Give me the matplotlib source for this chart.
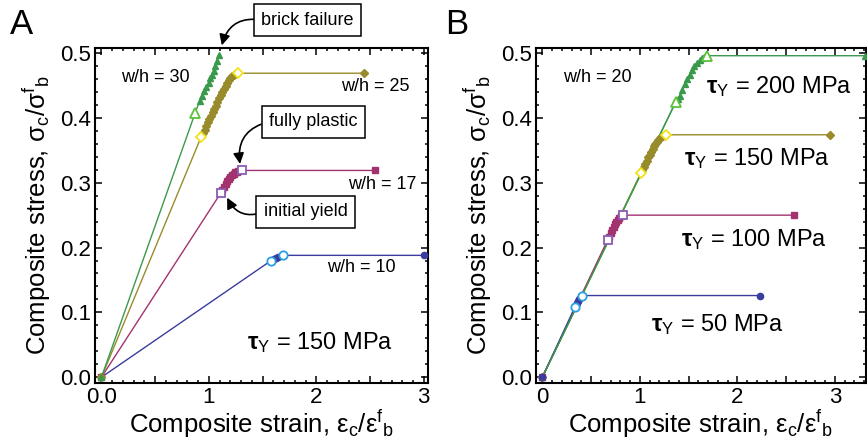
import matplotlib
matplotlib.use("Agg")
import matplotlib.pyplot as plt
from matplotlib.ticker import MultipleLocator, FixedLocator, FixedFormatter

plt.rcParams['font.family'] = ['Liberation Sans', 'DejaVu Sans']
plt.rcParams['mathtext.fontset'] = 'custom'
plt.rcParams['mathtext.rm'] = 'Liberation Sans'
plt.rcParams['mathtext.it'] = 'Liberation Sans:italic'
plt.rcParams['mathtext.bf'] = 'Liberation Sans:bold'

# ---- panel A data (tau_Y = 150 MPa, varying w/h) ----
a30_x = [0, 0.873, 0.913, 0.935, 0.956, 0.977, 0.997, 1.013, 1.028, 1.043, 1.058, 1.075, 1.09]
a30_y = [0, 0.408, 0.426, 0.434, 0.442, 0.448, 0.454, 0.461, 0.467, 0.473, 0.480, 0.488, 0.497]
a30_open = [1]

a25_x = [0, 0.926, 0.945, 0.96, 0.975, 0.99, 1.005, 1.02, 1.035, 1.05, 1.065, 1.08,
         1.095, 1.11, 1.125, 1.14, 1.155, 1.17, 1.185, 1.2, 1.215, 1.23, 1.245, 1.275, 2.44]
a25_y = [0, 0.370, 0.377, 0.382, 0.388, 0.393, 0.398, 0.403, 0.409, 0.414, 0.419,
         0.424, 0.430, 0.435, 0.440, 0.445, 0.450, 0.454, 0.458, 0.461, 0.464, 0.466,
         0.468, 0.469, 0.469]
a25_open = [1, 23]

a17_x = [0, 1.11, 1.125, 1.14, 1.155, 1.17, 1.185, 1.2, 1.215, 1.23, 1.245, 1.26,
         1.275, 1.31, 2.55]
a17_y = [0, 0.284, 0.289, 0.294, 0.298, 0.302, 0.306, 0.309, 0.312, 0.314, 0.316,
         0.317, 0.318, 0.319, 0.319]
a17_open = [1, 13]

a10_x = [0, 1.58, 1.605, 1.625, 1.645, 1.69, 3.0]
a10_y = [0, 0.180, 0.182, 0.184, 0.186, 0.188, 0.188]
a10_open = [1, 5]

# ---- panel B data (w/h = 20, varying tau_Y) ----
b200_x = [0, 1.366, 1.39, 1.41, 1.435, 1.46, 1.485, 1.51, 1.535, 1.56, 1.59, 1.62,
          1.64, 1.66, 1.685, 3.31]
b200_y = [0, 0.424, 0.429, 0.434, 0.443, 0.452, 0.460, 0.467, 0.474, 0.480, 0.485,
          0.489, 0.492, 0.494, 0.496, 0.496]
b200_open = [1, 14]

b150_x = [0, 1.01, 1.025, 1.04, 1.055, 1.07, 1.085, 1.1, 1.115, 1.13, 1.145, 1.16,
          1.175, 1.19, 1.205, 1.22, 1.235, 1.27, 2.95]
b150_y = [0, 0.315, 0.320, 0.325, 0.329, 0.334, 0.339, 0.343, 0.347, 0.352, 0.356,
          0.360, 0.363, 0.366, 0.369, 0.371, 0.372, 0.374, 0.374]
b150_open = [1, 17]

b100_x = [0, 0.67, 0.685, 0.7, 0.715, 0.73, 0.745, 0.76, 0.775, 0.79, 0.805, 0.83, 2.58]
b100_y = [0, 0.212, 0.217, 0.222, 0.227, 0.232, 0.236, 0.240, 0.243, 0.246, 0.248,
          0.250, 0.250]
b100_open = [1, 11]

b50_x = [0, 0.333, 0.345, 0.357, 0.369, 0.381, 0.393, 0.41, 2.23]
b50_y = [0, 0.108, 0.111, 0.114, 0.117, 0.120, 0.123, 0.126, 0.126]
b50_open = [1, 7]

green, green_o = '#3a9a4c', '#5cc23c'
olive, olive_o = '#988b2c', '#f2e21a'
mag, mag_o = '#a2336f', '#8c5cb4'
blue, blue_o = '#3a3c9e', '#2a9ee0'


def draw(ax, x, y, opn, col, ocol, mk, ms, lw=1.0):
    ax.plot(x, y, color=col, lw=lw, zorder=2)
    fx = [v for i, v in enumerate(x) if i not in opn]
    fy = [v for i, v in enumerate(y) if i not in opn]
    ax.plot(fx, fy, ls='none', marker=mk, ms=ms, color=col, mec=col, zorder=3)
    ox = [x[i] for i in opn]
    oy = [y[i] for i in opn]
    ax.plot(ox, oy, ls='none', marker=mk, ms=ms + 1.5, mfc='white', mec=ocol,
            mew=1.3, zorder=4)


def style(ax, xlabels):
    ax.set_ylim(-0.009, 0.508)
    ax.xaxis.set_major_locator(FixedLocator([0, 0.5, 1, 1.5, 2, 2.5, 3]))
    ax.xaxis.set_major_formatter(FixedFormatter(xlabels))
    ax.xaxis.set_minor_locator(MultipleLocator(0.1))
    ax.yaxis.set_major_locator(MultipleLocator(0.1))
    ax.yaxis.set_minor_locator(MultipleLocator(0.02))
    ax.yaxis.set_major_formatter(plt.FormatStrFormatter('%.1f'))
    ax.tick_params(which='both', direction='in', top=True, right=True, width=1.1)
    ax.tick_params(which='major', length=5, labelsize=16, pad=3)
    ax.tick_params(which='minor', length=2.5)
    for s in ax.spines.values():
        s.set_linewidth(1.5)
    ax.set_xlabel(r'Composite strain, $\mathregular{\varepsilon_c/\varepsilon^f{}_b}$',
                  fontsize=18.5, labelpad=0)
    ax.set_ylabel(r'Composite stress, $\mathregular{\sigma_c/\sigma^f{}_b}$',
                  fontsize=18.5, labelpad=5)


fig = plt.figure(figsize=(8.67, 4.48), dpi=100)
axA = fig.add_axes([0.1096, 0.145, 0.3841, 0.748])
axB = fig.add_axes([0.618, 0.145, 0.381, 0.748])

# panel A
draw(axA, a10_x, a10_y, a10_open, blue, blue_o, 'o', 4.5)
draw(axA, a17_x, a17_y, a17_open, mag, mag_o, 's', 4.5)
draw(axA, a25_x, a25_y, a25_open, olive, olive_o, 'D', 4)
draw(axA, a30_x, a30_y, a30_open, green, green_o, '^', 5)
axA.set_xlim(-0.06, 3.04)
style(axA, ['0.0', '', '1', '', '2', '', '3'])

wh = dict(fontsize=13, ha='center', va='center')
axA.text(0.50, 0.462, 'w/h = 30', **wh)
axA.text(2.55, 0.449, 'w/h = 25', **wh)
axA.text(2.61, 0.298, 'w/h = 17', **wh)
axA.text(2.42, 0.169, 'w/h = 10', **wh)
tau = dict(fontsize=17, ha='center', va='center')
axA.text(2.03, 0.054, r'$\mathbf{\tau}_\mathregular{Y}$ = 150 MPa', **tau)

box = dict(boxstyle='square,pad=0.4', fc='white', ec='black', lw=1.1)
arr = dict(arrowstyle='-|>', color='black', lw=1.2, relpos=(0, 0.5),
           mutation_scale=16, shrinkA=0, shrinkB=0)
axA.annotate('brick failure', xy=(1.12, 0.512), xytext=(1.92, 0.551),
             fontsize=13, ha='center', va='center', bbox=box, annotation_clip=False,
             arrowprops=dict(arr, connectionstyle='arc3,rad=0.45'))
axA.annotate('fully plastic', xy=(1.29, 0.329), xytext=(1.97, 0.394),
             fontsize=13, ha='center', va='center', bbox=box,
             arrowprops=dict(arr, connectionstyle='arc3,rad=0.45'))
axA.annotate('initial yield', xy=(1.17, 0.277), xytext=(1.90, 0.255),
             fontsize=13, ha='center', va='center', bbox=box,
             arrowprops=dict(arr, connectionstyle='arc3,rad=-0.45'))

# panel B
draw(axB, b200_x, b200_y, b200_open, green, green_o, '^', 5)
draw(axB, b150_x, b150_y, b150_open, olive, olive_o, 'D', 4)
draw(axB, b100_x, b100_y, b100_open, mag, mag_o, 's', 4.5)
draw(axB, b50_x, b50_y, b50_open, blue, blue_o, 'o', 4.5)
axB.plot(b200_x[:2], b200_y[:2], color=green, lw=1.0, zorder=2.5)
axB.set_xlim(-0.067, 3.32)
style(axB, ['0', '', '1', '', '2', '', '3'])

axB.text(0.56, 0.462, 'w/h = 20', **wh)
axB.text(2.43, 0.449, r'$\mathbf{\tau}_\mathregular{Y}$ = 200 MPa', **tau)
axB.text(2.20, 0.338, r'$\mathbf{\tau}_\mathregular{Y}$ = 150 MPa', **tau)
axB.text(2.17, 0.212, r'$\mathbf{\tau}_\mathregular{Y}$ = 100 MPa', **tau)
axB.text(1.79, 0.082, r'$\mathbf{\tau}_\mathregular{Y}$ = 50 MPa', **tau)

fig.text(22 / 867, 1 - 25 / 448, 'A', fontsize=25, ha='center', va='center')
fig.text(457 / 867, 1 - 25 / 448, 'B', fontsize=25, ha='center', va='center')

fig.savefig('out.png', dpi=100)
